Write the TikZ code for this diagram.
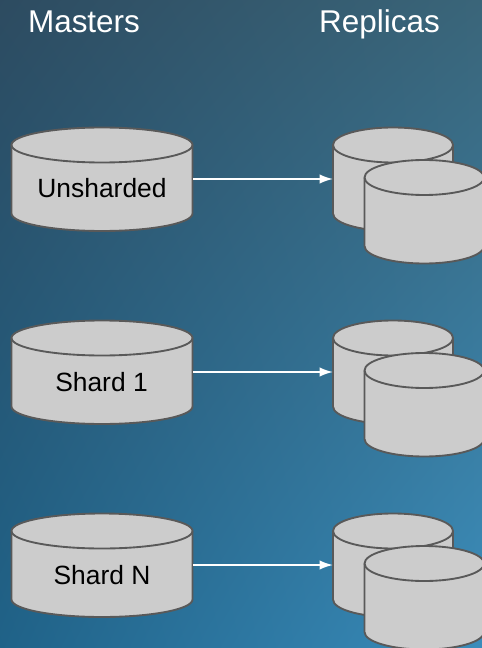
\documentclass[tikz,border=0pt]{standalone}
\usepackage{fontspec}
\setmainfont{Liberation Sans}
\usetikzlibrary{arrows.meta,calc,shadings}
\definecolor{cylfill}{HTML}{CCCCCC}
\definecolor{cylline}{HTML}{595959}
\definecolor{bgtl}{HTML}{2D4B60}
\definecolor{bgtr}{HTML}{3A6579}
\definecolor{bgbl}{HTML}{1F6288}
\definecolor{bgbr}{HTML}{3A8DBC}
\tikzset{
  x=0.75pt,y=-0.75pt,
  cylstroke/.style={draw=cylline,line width=1.4pt,line join=round},
  heading/.style={text=white,font=\fontsize{23.6pt}{28pt}\selectfont,inner sep=0pt,anchor=base},
  dblabel/.style={text=black,font=\fontsize{19.8pt}{24pt}\selectfont,inner sep=0pt,anchor=base},
  link/.style={draw=white,line width=1.3pt,-{Latex[length=10pt,width=7pt]}}
}
\newcommand{\dbcyl}[5]{% name, left x, right x, top y, bottom y
  \pgfmathsetmacro{\cx}{(#2+#3)/2}
  \pgfmathsetmacro{\rx}{(#3-#2)/2}
  \pgfmathsetmacro{\ty}{#4+17.5}
  \pgfmathsetmacro{\by}{#5-17.5}
  \pgfmathsetmacro{\kx}{\rx*0.5523}
  \path[fill=cylfill,cylstroke] (#2,\ty)
    .. controls (#2,\ty-9.66) and (\cx-\kx,\ty-17.5) .. (\cx,\ty-17.5)
    .. controls (\cx+\kx,\ty-17.5) and (#3,\ty-9.66) .. (#3,\ty)
    -- (#3,\by)
    .. controls (#3,\by+9.66) and (\cx+\kx,\by+17.5) .. (\cx,\by+17.5)
    .. controls (\cx-\kx,\by+17.5) and (#2,\by+9.66) .. (#2,\by)
    -- cycle;
  \path[cylstroke] (#2,\ty)
    .. controls (#2,\ty+9.66) and (\cx-\kx,\ty+17.5) .. (\cx,\ty+17.5)
    .. controls (\cx+\kx,\ty+17.5) and (#3,\ty+9.66) .. (#3,\ty);
}
\begin{document}
\begin{tikzpicture}
\useasboundingbox (0,0) rectangle (481,648);
\begin{scope}
\clip (-3,-3) rectangle (484,651);
\shade[upper left=bgtl,upper right=bgtr,lower left=bgbl,lower right=bgbr] (-3,-3) rectangle (484,651);
\foreach \n/\t in {a/127.5,b/320.5,c/513.5}{
  \dbcyl{\n m}{11.5}{192.5}{\t}{\t+103.5}
  \dbcyl{\n r}{333}{453}{\t}{\t+103.5}
  \dbcyl{\n f}{364.5}{484}{\t+32.5}{\t+136}
}
\end{scope}
\coordinate (am-e) at (193.2,179);
\coordinate (ar-w) at (333,179);
\coordinate (bm-e) at (193.2,372);
\coordinate (br-w) at (333,372);
\coordinate (cm-e) at (193.2,565);
\coordinate (cr-w) at (333,565);
\node[heading] (masters) at (84,32.7) {Masters};
\node[heading] (replicas) at (379.5,32.7) {Replicas};
\node[dblabel] (la) at (102,198) {Unsharded};
\node[dblabel] (lb) at (101.5,391) {Shard 1};
\node[dblabel] (lc) at (102,584) {Shard N};
\draw[link] (am-e) -- (ar-w);
\draw[link] (bm-e) -- (br-w);
\draw[link] (cm-e) -- (cr-w);
\end{tikzpicture}
\end{document}
